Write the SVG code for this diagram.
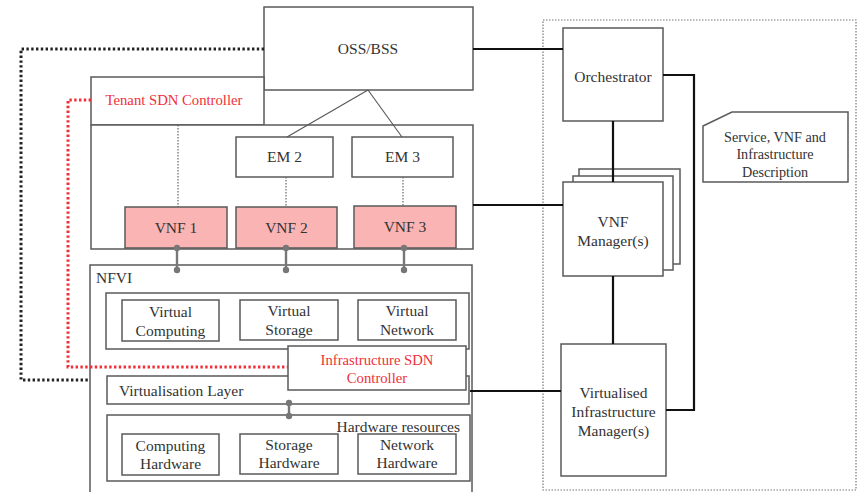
<svg xmlns="http://www.w3.org/2000/svg" width="860" height="492" viewBox="0 0 860 492">
  <style>
    .box { fill: #ffffff; stroke: #5a5a5a; stroke-width: 1.5; }
    .vnf { fill: #fbb4b4; stroke: #5a5a5a; stroke-width: 1.5; }
    .t { font-family: "Liberation Serif", "Times New Roman", serif; font-size: 15.5px; fill: #333333; text-anchor: middle; }
    .t.start { text-anchor: start; }
    .t.end { text-anchor: end; }
    .t.small { font-size: 14.2px; }
    .red { fill: #f0303a; font-size: 14.7px; }
    .link { fill: none; stroke: #111111; stroke-width: 2.2; }
    .thin { fill: none; stroke: #555555; stroke-width: 1.1; }
    .dot { fill: none; stroke: #666666; stroke-width: 1.2; stroke-dasharray: 1.5 1.5; }
    .bus { fill: none; stroke: #777777; stroke-width: 2.4; }
    .pin { fill: #777777; }
  </style>

  <!-- MANO domain frame -->
  <rect id="mano-frame" x="543" y="20" width="313" height="470" fill="none" stroke="#777777" stroke-width="1.2" stroke-dasharray="1.5 1.5"/>

  <g id="oss-bss">
    <rect class="box" x="264" y="7" width="209" height="83"/>
    <text class="t" x="368" y="54">OSS/BSS</text>
  </g>

  <g id="tenant-sdn">
    <rect class="box" x="91" y="77" width="173" height="48"/>
    <text class="t red" x="174" y="105">Tenant SDN Controller</text>
  </g>

  <g id="vnf-domain">
    <polyline class="box" fill="none" points="91,125 473,125 473,249 91,249 91,125"/>
  </g>

  <g id="em2">
    <rect class="box" x="236" y="137" width="97" height="40"/>
    <text class="t" x="284.5" y="162">EM 2</text>
  </g>
  <g id="em3">
    <rect class="box" x="352" y="137" width="101" height="40"/>
    <text class="t" x="402.5" y="162">EM 3</text>
  </g>

  <g id="vnf1">
    <rect class="vnf" x="125" y="207" width="102" height="41"/>
    <text class="t" x="176" y="233">VNF 1</text>
  </g>
  <g id="vnf2">
    <rect class="vnf" x="236" y="207" width="101" height="41"/>
    <text class="t" x="286.5" y="233">VNF 2</text>
  </g>
  <g id="vnf3">
    <rect class="vnf" x="354" y="206" width="102" height="42"/>
    <text class="t" x="405" y="232">VNF 3</text>
  </g>

  <g id="nfvi">
    <rect class="box" x="90" y="265" width="382" height="240"/>
    <text class="t start" x="96" y="283">NFVI</text>
  </g>

  <g id="virtual-resources">
    <rect class="box" x="106" y="293" width="363" height="56"/>
    <rect class="box" x="122" y="300" width="97" height="41"/>
    <text class="t" x="170.5" y="317">Virtual</text>
    <text class="t" x="170.5" y="336">Computing</text>
    <rect class="box" x="240" y="300" width="98" height="40"/>
    <text class="t" x="289" y="316">Virtual</text>
    <text class="t" x="289" y="335">Storage</text>
    <rect class="box" x="358" y="300" width="98" height="40"/>
    <text class="t" x="407" y="316">Virtual</text>
    <text class="t" x="407" y="335">Network</text>
  </g>

  <g id="virtualisation-layer">
    <rect class="box" x="107" y="376" width="362" height="28"/>
    <text class="t start" x="119" y="396">Virtualisation Layer</text>
  </g>

  <g id="infra-sdn">
    <rect class="box" x="288" y="346" width="178" height="44"/>
    <text class="t red" x="377" y="365">Infrastructure SDN</text>
    <text class="t red" x="377" y="383">Controller</text>
  </g>

  <g id="hardware-resources">
    <rect class="box" x="107" y="415" width="363" height="66"/>
    <text class="t end" x="460" y="432">Hardware resources</text>
    <rect class="box" x="122" y="434" width="97" height="41"/>
    <text class="t" x="170.5" y="451">Computing</text>
    <text class="t" x="170.5" y="469">Hardware</text>
    <rect class="box" x="240" y="434" width="98" height="40"/>
    <text class="t" x="289" y="450">Storage</text>
    <text class="t" x="289" y="468">Hardware</text>
    <rect class="box" x="358" y="434" width="98" height="40"/>
    <text class="t" x="407" y="450">Network</text>
    <text class="t" x="407" y="468">Hardware</text>
  </g>

  <g id="orchestrator">
    <rect class="box" x="563" y="28" width="100" height="93"/>
    <text class="t" x="613" y="82">Orchestrator</text>
  </g>

  <g id="vnf-manager">
    <rect class="box" x="579" y="169" width="101" height="95"/>
    <rect class="box" x="573" y="176" width="100" height="94"/>
    <rect class="box" x="563" y="182" width="100" height="94"/>
    <text class="t" x="613" y="227">VNF</text>
    <text class="t" x="613" y="246">Manager(s)</text>
  </g>

  <g id="vim">
    <rect class="box" x="561" y="344" width="105" height="132"/>
    <text class="t" x="613.5" y="398">Virtualised</text>
    <text class="t" x="613.5" y="417">Infrastructure</text>
    <text class="t" x="613.5" y="436">Manager(s)</text>
  </g>

  <g id="descriptors">
    <polygon class="box" points="703,126 732,112 848,112 848,182 703,182"/>
    <text class="t small" x="775" y="142">Service, VNF and</text>
    <text class="t small" x="775" y="159">Infrastructure</text>
    <text class="t small" x="775" y="177">Description</text>
  </g>

  <g id="connectors">
    <!-- management-plane links -->
    <line class="link" x1="473" y1="49" x2="563" y2="49"/>
    <polyline class="link" points="663,75 694,75 694,410 666,410"/>
    <line class="link" x1="613" y1="121" x2="613" y2="182"/>
    <line class="link" x1="613" y1="276" x2="613" y2="344"/>
    <line class="link" x1="473" y1="205" x2="563" y2="205"/>
    <line class="link" x1="470" y1="391" x2="561" y2="391"/>
    <!-- OSS/BSS to element managers -->
    <line class="thin" x1="368" y1="90" x2="287" y2="137"/>
    <line class="thin" x1="368" y1="90" x2="402" y2="137"/>
    <!-- EM / tenant controller to VNFs -->
    <line class="dot" x1="178" y1="125" x2="178" y2="207"/>
    <line class="dot" x1="286" y1="177" x2="286" y2="207"/>
    <line class="dot" x1="403" y1="177" x2="403" y2="207"/>
    <!-- OSS/BSS to infrastructure (black dotted) -->
    <polyline points="264,49 21,49 21,380 90,380" fill="none" stroke="#222222" stroke-width="3" stroke-dasharray="2.4 2.4"/>
    <!-- Tenant SDN to Infrastructure SDN (red dotted) -->
    <polyline points="91,100 68,100 68,367 288,367" fill="none" stroke="#f03038" stroke-width="3" stroke-dasharray="2.4 2.4"/>
    <!-- VNF to NFVI attachment points -->
    <line class="bus" x1="177" y1="248" x2="177" y2="270"/>
    <circle class="pin" cx="177" cy="248" r="3.2"/>
    <circle class="pin" cx="177" cy="270" r="3.2"/>
    <line class="bus" x1="286" y1="248" x2="286" y2="270"/>
    <circle class="pin" cx="286" cy="248" r="3.2"/>
    <circle class="pin" cx="286" cy="270" r="3.2"/>
    <line class="bus" x1="404" y1="248" x2="404" y2="270"/>
    <circle class="pin" cx="404" cy="248" r="3.2"/>
    <circle class="pin" cx="404" cy="270" r="3.2"/>
    <!-- virtualisation layer to hardware -->
    <line class="bus" x1="289" y1="403" x2="289" y2="416"/>
    <circle class="pin" cx="289" cy="403" r="3.2"/>
    <circle class="pin" cx="289" cy="416" r="3.2"/>
  </g>
</svg>
